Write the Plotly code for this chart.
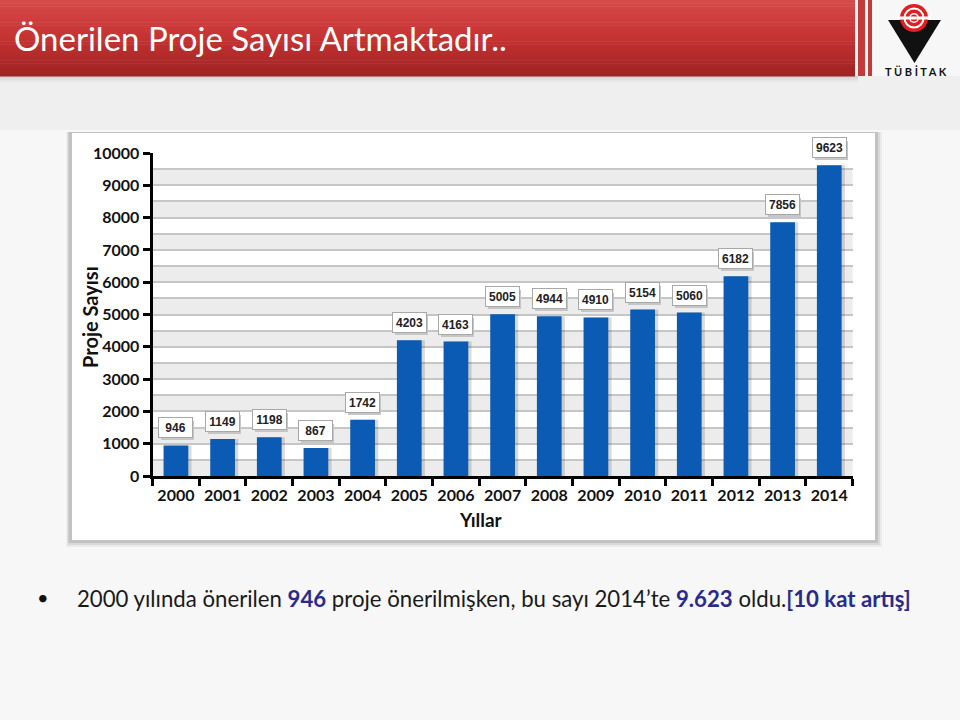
import plotly.graph_objects as go

# ---- data ----
years = [str(y) for y in range(2000, 2015)]
counts = [946, 1149, 1198, 867, 1742, 4203, 4163, 5005, 4944, 4910, 5154, 5060, 6182, 7856, 9623]
y_ticks = list(range(0, 10001, 1000))
band_starts = list(range(0, 10000, 1000))

title_text = "Önerilen Proje Sayısı Artmaktadır.."
y_title = "Proje Sayısı"
x_title = "Yıllar"
hl = "#2b2a8a"
bullet_text = ("2000 yılında önerilen <b><span style='color:%s'>946</span></b> proje önerilmişken, "
               "bu sayı 2014’te <b><span style='color:%s'>9.623</span></b> oldu."
               "<b><span style='color:%s'>[10 kat artış]</span></b>") % (hl, hl, hl)

W, H = 960, 720
def px(x): return x / W
def py(y): return 1 - y / H

fig = go.Figure()
# subtle bar shadow
fig.add_bar(x=years, y=counts, width=0.53, offset=-0.265 + 0.07,
            marker=dict(color="rgba(0,0,0,0.14)", line_width=0), hoverinfo="skip")
fig.add_bar(x=years, y=counts, width=0.53, offset=-0.265,
            marker=dict(color="#0b5ab3", line_width=0))

shapes = []
# slide background pieces
shapes.append(dict(type="rect", xref="paper", yref="paper", x0=0, x1=1, y0=py(130), y1=py(76),
                   fillcolor="#efefef", line_width=0, layer="below"))
for i, c in enumerate(["#d4d4d4", "#dedede", "#e7e7e7"]):
    shapes.append(dict(type="rect", xref="paper", yref="paper", x0=0, x1=px(858),
                       y0=py(76 + 2 * (i + 1)), y1=py(76 + 2 * i), fillcolor=c, line_width=0, layer="below"))
# title bar gradient
n = 24
top = (214, 74, 74); mid = (198, 50, 50); bot = (160, 36, 36)
for i in range(n):
    t = i / (n - 1)
    if t < 0.5:
        a, b, u = top, mid, t / 0.5
    else:
        a, b, u = mid, bot, (t - 0.5) / 0.5
    col = "rgb(%d,%d,%d)" % tuple(int(a[k] + (b[k] - a[k]) * u) for k in range(3))
    shapes.append(dict(type="rect", xref="paper", yref="paper", x0=0, x1=px(855),
                       y0=py(76 * (i + 1) / n + 0.5), y1=py(76 * i / n), fillcolor=col,
                       line_width=0, layer="below"))
# stripes near logo
for x0, x1 in [(858, 865), (868, 872)]:
    shapes.append(dict(type="rect", xref="paper", yref="paper", x0=px(x0), x1=px(x1),
                       y0=py(76), y1=py(0), fillcolor="#c23a3a", line_width=0, layer="below"))
# logo: triangle + circles
tri = "M %f,%f L %f,%f L %f,%f Z" % (px(888), py(20), px(941), py(20), px(914.5), py(63))
shapes.append(dict(type="path", xref="paper", yref="paper", path=tri, fillcolor="#111111",
                   line_width=0, layer="above"))
for r, c in [(14, "#e02020"), (10.5, "white"), (8.5, "#e02020"), (5, "white"), (3.5, "#e02020")]:
    shapes.append(dict(type="circle", xref="paper", yref="paper", x0=px(914 - r), x1=px(914 + r),
                       y0=py(18 + r), y1=py(18 - r), fillcolor=c, line_width=0, layer="above"))
shapes.append(dict(type="rect", xref="paper", yref="paper", x0=px(897), x1=px(931),
                   y0=py(19.5), y1=py(16.5), fillcolor="white", line_width=0, layer="above"))
# card shadow and card
for off, c in [(7, "rgba(0,0,0,0.05)"), (5, "rgba(0,0,0,0.07)"), (3, "rgba(0,0,0,0.10)")]:
    shapes.append(dict(type="rect", xref="paper", yref="paper", x0=px(70 - off / 2), x1=px(875 + off),
                       y0=py(540 + off), y1=py(133 - 1), fillcolor=c, line_width=0, layer="below"))
shapes.append(dict(type="rect", xref="paper", yref="paper", x0=px(72), x1=px(875),
                   y0=py(540), y1=py(133), fillcolor="white", line_width=0, layer="below"))
# alternating bands inside plot
for b in band_starts:
    shapes.append(dict(type="rect", xref="x domain", yref="y", x0=0, x1=1, y0=b, y1=b + 500,
                       fillcolor="#ececec", line_width=0, layer="below"))

annotations = []
annotations.append(dict(text=title_text, x=px(12), y=py(38), xref="paper", yref="paper",
                        xanchor="left", yanchor="middle", showarrow=False,
                        font=dict(family="Lato", size=33, color="white")))
annotations.append(dict(text="<b>T Ü B İ T A K</b>", x=px(916), y=py(72), xref="paper", yref="paper",
                        xanchor="center", yanchor="middle", showarrow=False,
                        font=dict(family="Lato", size=11, color="#111111")))
annotations.append(dict(text="<b>" + y_title + "</b>", x=px(90), y=py(317), xref="paper", yref="paper",
                        textangle=-90, showarrow=False, xanchor="center", yanchor="middle",
                        font=dict(family="Lato", size=20, color="#111111")))
annotations.append(dict(text="<b>" + x_title + "</b>", x=px(481), y=py(519), xref="paper", yref="paper",
                        showarrow=False, xanchor="center", yanchor="middle",
                        font=dict(family="Lato", size=19, color="#111111")))
annotations.append(dict(text="•", x=px(43), y=py(597), xref="paper", yref="paper",
                        showarrow=False, xanchor="center", yanchor="middle",
                        font=dict(family="Lato", size=20, color="#111111")))
annotations.append(dict(text=bullet_text, x=px(75), y=py(598), xref="paper", yref="paper",
                        showarrow=False, xanchor="left", yanchor="middle",
                        font=dict(family="Lato", size=22.2, color="#1a1a1a")))
# value label boxes (shadow + box), positioned by category index and value
for i, v in enumerate(counts):
    annotations.append(dict(text=" ", x=i, y=v, xref="x", yref="y", width=31, height=17,
                            showarrow=False, yanchor="bottom", yshift=5, xshift=2,
                            bgcolor="#c6c6c6", borderpad=1, borderwidth=0,
                            font=dict(family="Liberation Sans", size=12)))
    annotations.append(dict(text="<b>%d</b>" % v, x=i, y=v, xref="x", yref="y", width=31, height=17,
                            showarrow=False, yanchor="bottom", yshift=7,
                            bgcolor="white", borderpad=1, bordercolor="#a8a8a8", borderwidth=1,
                            font=dict(family="Liberation Sans", size=12, color="#222222")))

fig.update_layout(
    width=W, height=H, margin=dict(l=0, r=0, t=0, b=0),
    paper_bgcolor="#f7f7f7", plot_bgcolor="white",
    barmode="overlay", showlegend=False,
    shapes=shapes, annotations=annotations,
    xaxis=dict(domain=[px(152.6), px(852.6)], type="category", range=[-0.5, 14.5],
               tickson="boundaries", ticks="outside", ticklen=7, tickwidth=2.5, tickcolor="black",
               showline=True, linewidth=3, linecolor="black", showgrid=False, automargin=False,
               ticklabelstandoff=3, tickangle=0,
               tickfont=dict(family="Lato", size=16, color="#111111", weight="bold")),
    yaxis=dict(domain=[py(476), py(153)], range=[0, 10000], tickvals=y_ticks, tickformat="d",
               ticks="outside", ticklen=7, tickwidth=2.5, tickcolor="black",
               showline=True, linewidth=3, linecolor="black", zeroline=False,
               showgrid=True, gridcolor="#c6c6c6", gridwidth=1.5,
               minor=dict(dtick=500, showgrid=True, gridcolor="#c6c6c6", gridwidth=1.5, ticks=""),
               automargin=False,
               tickfont=dict(family="Lato", size=16, color="#111111", weight="bold")),
)

fig.write_html("out.html")
